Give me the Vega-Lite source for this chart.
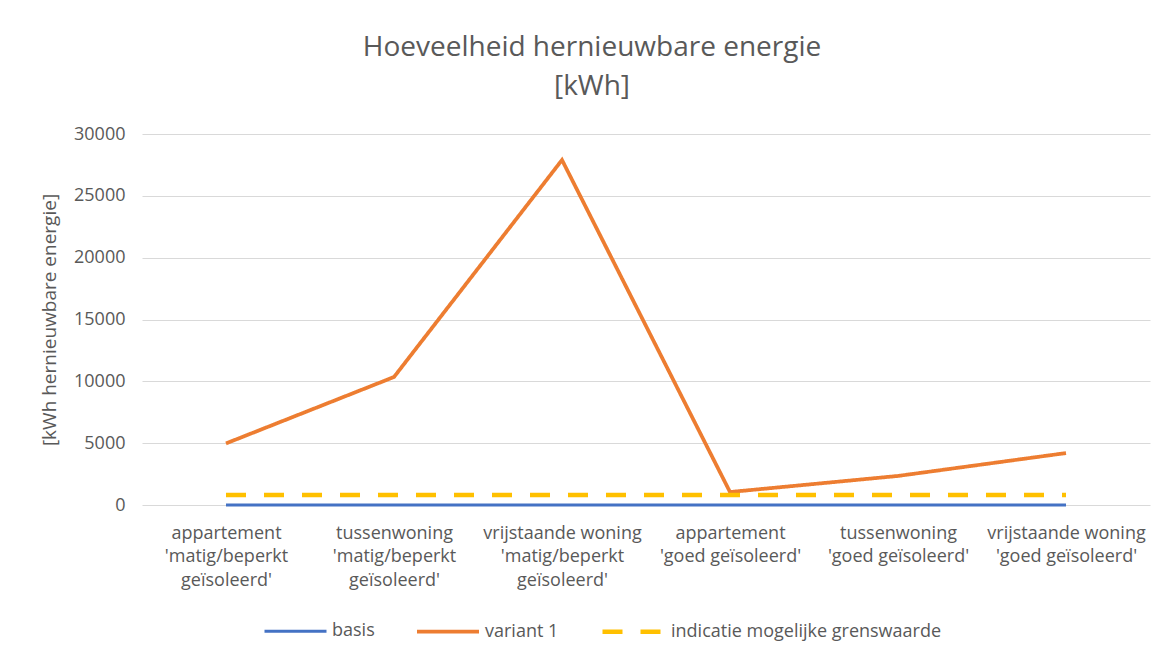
{
  "$schema": "https://vega.github.io/schema/vega-lite/v6.json",
  "autosize": {"type": "none"},
  "width": 1008,
  "height": 371,
  "padding": {"left": 142, "top": 134, "right": 17, "bottom": 154},
  "background": "white",
  "title": {
    "text": ["Hoeveelheid hernieuwbare energie", "[kWh]"],
    "font": "Open Sans",
    "fontSize": 28,
    "fontWeight": "normal",
    "color": "#595959",
    "lineHeight": 39,
    "anchor": "middle",
    "dx": -54,
    "offset": 24
  },
  "config": {
    "view": {"stroke": null},
    "font": "Open Sans"
  },
  "data": {
    "values": [
      {"cat": "appartement|'matig/beperkt|geïsoleerd'", "serie": "basis", "v": 0},
      {"cat": "tussenwoning|'matig/beperkt|geïsoleerd'", "serie": "basis", "v": 0},
      {"cat": "vrijstaande woning|'matig/beperkt|geïsoleerd'", "serie": "basis", "v": 0},
      {"cat": "appartement|'goed geïsoleerd'", "serie": "basis", "v": 0},
      {"cat": "tussenwoning|'goed geïsoleerd'", "serie": "basis", "v": 0},
      {"cat": "vrijstaande woning|'goed geïsoleerd'", "serie": "basis", "v": 0},
      {"cat": "appartement|'matig/beperkt|geïsoleerd'", "serie": "variant 1", "v": 4980},
      {"cat": "tussenwoning|'matig/beperkt|geïsoleerd'", "serie": "variant 1", "v": 10350},
      {"cat": "vrijstaande woning|'matig/beperkt|geïsoleerd'", "serie": "variant 1", "v": 27900},
      {"cat": "appartement|'goed geïsoleerd'", "serie": "variant 1", "v": 1050},
      {"cat": "tussenwoning|'goed geïsoleerd'", "serie": "variant 1", "v": 2350},
      {"cat": "vrijstaande woning|'goed geïsoleerd'", "serie": "variant 1", "v": 4200},
      {"cat": "appartement|'matig/beperkt|geïsoleerd'", "serie": "indicatie mogelijke grenswaarde", "v": 800},
      {"cat": "tussenwoning|'matig/beperkt|geïsoleerd'", "serie": "indicatie mogelijke grenswaarde", "v": 800},
      {"cat": "vrijstaande woning|'matig/beperkt|geïsoleerd'", "serie": "indicatie mogelijke grenswaarde", "v": 800},
      {"cat": "appartement|'goed geïsoleerd'", "serie": "indicatie mogelijke grenswaarde", "v": 800},
      {"cat": "tussenwoning|'goed geïsoleerd'", "serie": "indicatie mogelijke grenswaarde", "v": 800},
      {"cat": "vrijstaande woning|'goed geïsoleerd'", "serie": "indicatie mogelijke grenswaarde", "v": 800}
    ]
  },
  "mark": {"type": "line", "strokeCap": "butt"},
  "encoding": {
    "x": {
      "field": "cat",
      "type": "ordinal",
      "sort": null,
      "scale": {"type": "point", "padding": 0.5},
      "axis": {
        "title": null,
        "labelAngle": 0,
        "labelExpr": "split(datum.label, '|')",
        "labelFont": "Open Sans",
        "labelFontSize": 18,
        "labelColor": "#595959",
        "labelLineHeight": 23.5,
        "labelPadding": 19,
        "labelLimit": 300,
        "ticks": false,
        "domain": false,
        "grid": false
      }
    },
    "y": {
      "field": "v",
      "type": "quantitative",
      "scale": {"domain": [0, 30000], "nice": false},
      "axis": {
        "title": "[kWh hernieuwbare energie]",
        "titleFont": "Open Sans",
        "titleFontSize": 19,
        "titleFontWeight": "normal",
        "titleColor": "#595959",
        "titlePadding": 14,
        "values": [0, 5000, 10000, 15000, 20000, 25000, 30000],
        "format": "d",
        "labelFont": "Open Sans",
        "labelFontSize": 18,
        "labelColor": "#595959",
        "labelPadding": 17,
        "ticks": false,
        "domain": false,
        "grid": true,
        "gridColor": "#D9D9D9",
        "gridWidth": 1.2
      }
    },
    "color": {
      "field": "serie",
      "type": "nominal",
      "scale": {
        "domain": ["basis", "variant 1", "indicatie mogelijke grenswaarde"],
        "range": ["#4472C4", "#ED7D31", "#FFC000"]
      },
      "legend": {
        "title": null,
        "orient": "none",
        "legendX": 121,
        "legendY": 464,
        "direction": "horizontal",
        "symbolType": "stroke",
        "symbolSize": 3844,
        "symbolStrokeWidth": 5,
        "labelFont": "Open Sans",
        "labelFontSize": 18,
        "labelColor": "#595959",
        "labelOffset": 4,
        "labelLimit": 400,
        "columnPadding": 34
      }
    },
    "strokeDash": {
      "field": "serie",
      "type": "nominal",
      "scale": {
        "domain": ["basis", "variant 1", "indicatie mogelijke grenswaarde"],
        "range": [[1, 0], [1, 0], [20, 18]]
      },
      "legend": null
    },
    "strokeWidth": {
      "field": "serie",
      "type": "nominal",
      "scale": {
        "domain": ["basis", "variant 1", "indicatie mogelijke grenswaarde"],
        "range": [3, 4.5, 5]
      },
      "legend": null
    }
  }
}
